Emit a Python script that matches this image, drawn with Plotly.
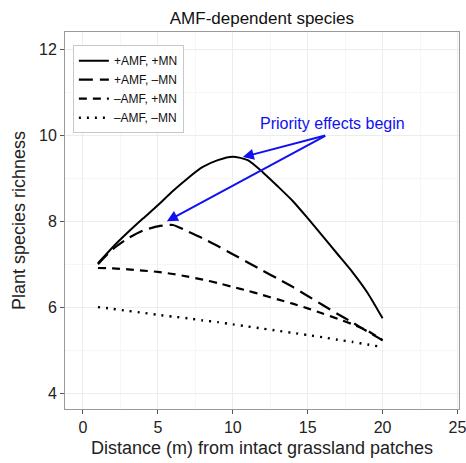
import plotly.graph_objects as go

distance = list(range(1, 21))
amf_mn = [7.02, 7.40, 7.74, 8.06, 8.37, 8.70, 9.00, 9.26, 9.42, 9.50,
          9.42, 9.14, 8.81, 8.47, 8.07, 7.65, 7.23, 6.81, 6.33, 5.74]
amf_nomn = [7.00, 7.35, 7.60, 7.78, 7.88, 7.91, 7.76, 7.60, 7.42, 7.23,
            7.04, 6.85, 6.66, 6.47, 6.26, 6.05, 5.84, 5.64, 5.43, 5.23]
noamf_mn = [6.91, 6.90, 6.88, 6.85, 6.82, 6.77, 6.71, 6.64, 6.56, 6.47,
            6.38, 6.28, 6.18, 6.08, 5.97, 5.85, 5.73, 5.60, 5.45, 5.23]
noamf_nomn = [6.00, 5.96, 5.91, 5.87, 5.82, 5.78, 5.74, 5.69, 5.65, 5.60,
              5.55, 5.50, 5.45, 5.40, 5.35, 5.30, 5.24, 5.19, 5.13, 5.07]

series_names = ["+AMF, +MN", "+AMF, \u2013MN", "\u2013AMF, +MN", "\u2013AMF, \u2013MN"]
series_values = [amf_mn, amf_nomn, noamf_mn, noamf_nomn]
dashes = ["solid", "14px,7px", "8px,6px", "2px,6px"]
widths = [2, 2.2, 2.2, 2.4]

x_ticks = [0, 5, 10, 15, 20, 25]
y_ticks = [4, 6, 8, 10, 12]

annot_text = "Priority effects begin"
annot_tail = (16.27, 10.0)
annot_heads = [(10.67, 9.49), (5.6, 8.0)]

fig = go.Figure()
for name, vals, d, w in zip(series_names, series_values, dashes, widths):
    fig.add_trace(go.Scatter(x=distance, y=vals, mode="lines", name=name,
                             line=dict(color="black", dash=d, width=w,
                                       shape="spline", smoothing=0.6)))

for hx, hy in annot_heads:
    fig.add_annotation(x=hx, y=hy, ax=annot_tail[0], ay=annot_tail[1],
                       xref="x", yref="y", axref="x", ayref="y",
                       showarrow=True, arrowhead=2, arrowsize=1.1, arrowwidth=2,
                       arrowcolor="#1010F0", text="")
fig.add_annotation(x=16.67, y=10.28, xref="x", yref="y", text=annot_text,
                   showarrow=False, font=dict(color="#1010F0", size=16))

axis_common = dict(showline=True, linecolor="#9a9a9a", linewidth=1, mirror=True,
                   ticks="outside", ticklen=4, tickcolor="#555555",
                   tickfont=dict(size=16, color="#222222"),
                   ticklabeloverflow="allow",
                   showgrid=True, gridcolor="#ececec", gridwidth=1, zeroline=False,
                   automargin=False)

fig.update_xaxes(range=[-1.2, 25.1], tickvals=x_ticks,
                 minor=dict(dtick=2.5, tick0=0, showgrid=True, gridcolor="#f6f6f6", ticks=""),
                 title=dict(text="Distance (m) from intact grassland patches",
                            font=dict(size=18, color="#222222"), standoff=6),
                 **axis_common)
fig.update_yaxes(range=[3.63, 12.4], tickvals=y_ticks,
                 minor=dict(dtick=1, tick0=0, showgrid=True, gridcolor="#f6f6f6", ticks=""),
                 title=dict(text="Plant species richness",
                            font=dict(size=18, color="#222222"), standoff=8),
                 **axis_common)

fig.update_layout(
    width=466, height=463,
    margin=dict(l=65, r=7, t=32, b=54, autoexpand=False),
    paper_bgcolor="white", plot_bgcolor="white",
    font=dict(family="Liberation Sans, Arial, sans-serif", color="#222222"),
    title=dict(text="AMF-dependent species", x=0.562, xanchor="center", y=0.961,
               yanchor="middle", font=dict(size=17, color="#111111")),
    legend=dict(x=0.02, y=0.965, xanchor="left", yanchor="top",
                bordercolor="#c8c8c8", borderwidth=1, bgcolor="white",
                font=dict(size=12, color="#111111"), tracegroupgap=0,
                itemwidth=30),
    showlegend=True,
)

fig.write_html("out.html", config={"displayModeBar": False},
               post_script="document.body.style.margin='0';document.body.style.padding='0';")
